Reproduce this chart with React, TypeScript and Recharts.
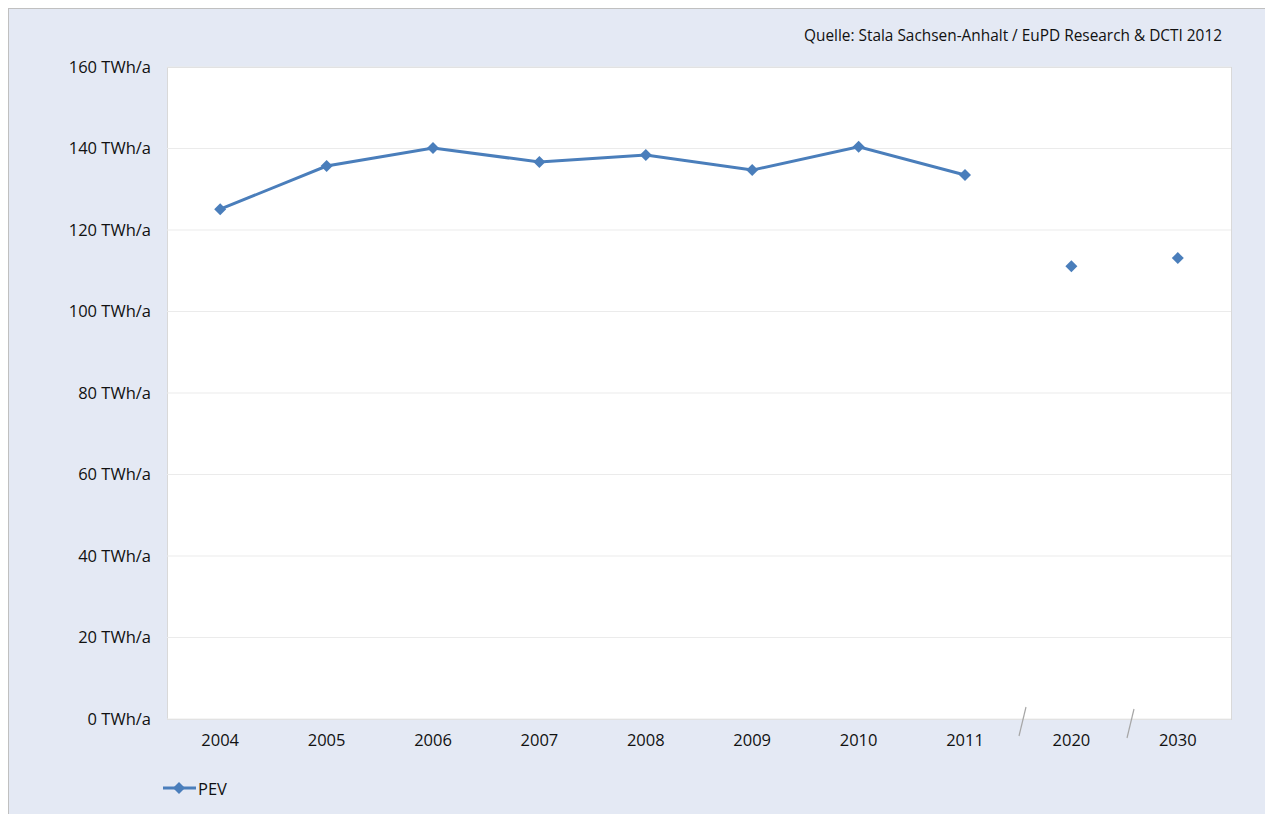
import React from 'react';
import { LineChart, Line, XAxis, YAxis, CartesianGrid } from 'recharts';

const years = ['2004', '2005', '2006', '2007', '2008', '2009', '2010', '2011', '2020', '2030'];
const pevMeasured = [125.1, 135.7, 140.1, 136.7, 138.4, 134.7, 140.4, 133.5, null, null];
const pevForecast = [null, null, null, null, null, null, null, null, 111.1, 113.1];
const yTicks = [0, 20, 40, 60, 80, 100, 120, 140, 160];

const data = years.map((year, i) => ({
  year,
  measured: pevMeasured[i],
  forecast: pevForecast[i],
}));

const BLUE = '#4a7ebb';
const TEXT = '#111';
const FONT = '"Open Sans", "Noto Sans", sans-serif';

const Diamond = (props: any) => {
  const { cx, cy, key } = props;
  if (cx == null || cy == null) return <g key={key} />;
  const r = 6;
  return (
    <polygon
      key={key}
      points={`${cx},${cy - r} ${cx + r},${cy} ${cx},${cy + r} ${cx - r},${cy}`}
      fill={BLUE}
    />
  );
};

export default function App() {
  return (
    <div
      style={{
        position: 'absolute',
        left: 8,
        top: 8,
        width: 1257,
        height: 806,
        overflow: 'hidden',
        background: '#e4e9f4',
        borderTop: '1px solid #c0c0c0',
        borderLeft: '1px solid #c0c0c0',
        boxSizing: 'border-box',
        fontFamily: FONT,
      }}
    >
      <div
        style={{
          position: 'absolute',
          right: 43,
          top: 16,
          fontSize: 15.4,
          fontWeight: 500,
          color: TEXT,
        }}
      >
        Quelle: Stala Sachsen-Anhalt / EuPD Research &amp; DCTI 2012
      </div>

      {/* plot area background */}
      <div
        style={{
          position: 'absolute',
          left: 158,
          top: 58,
          width: 1063,
          height: 651,
          background: '#fff',
          border: '1px solid #d9d9d9',
        }}
      />

      <div style={{ position: 'absolute', left: 0, top: 0 }}>
        <LineChart
          width={1256}
          height={805}
          data={data}
          margin={{ top: 58, right: 34, bottom: 65, left: 0 }}
        >
          <CartesianGrid vertical={false} stroke="#ebebeb" />
          <XAxis
            dataKey="year"
            scale="band"
            height={30}
            axisLine={false}
            tickLine={false}
            tickMargin={9}
            tick={{ fill: TEXT, fontSize: 16.5, fontWeight: 500, fontFamily: FONT }}
            interval={0}
          />
          <YAxis
            width={158}
            domain={[0, 160]}
            ticks={yTicks}
            axisLine={false}
            tickLine={false}
            tickMargin={10}
            tickFormatter={(v) => `${v} TWh/a`}
            tick={{ fill: TEXT, fontSize: 16.5, fontWeight: 500, fontFamily: FONT }}
          />
          <Line
            dataKey="measured"
            stroke={BLUE}
            strokeWidth={3}
            dot={Diamond}
            activeDot={false}
            isAnimationActive={false}
          />
          <Line
            dataKey="forecast"
            stroke="none"
            dot={Diamond}
            activeDot={false}
            isAnimationActive={false}
          />
        </LineChart>
      </div>

      {/* axis break marks */}
      <svg
        style={{ position: 'absolute', left: 0, top: 0 }}
        width={1257}
        height={806}
      >
        <line x1={1017} y1={698} x2={1010} y2={727} stroke="#a6a6a6" strokeWidth={1.2} />
        <line x1={1125} y1={700} x2={1118} y2={729} stroke="#a6a6a6" strokeWidth={1.2} />
      </svg>

      {/* legend */}
      <div
        style={{
          position: 'absolute',
          left: 153,
          top: 767,
          display: 'flex',
          alignItems: 'center',
          fontSize: 16.5,
          fontWeight: 500,
          color: TEXT,
        }}
      >
        <svg width={36} height={24}>
          <line x1={1} y1={12} x2={34} y2={12} stroke={BLUE} strokeWidth={3} />
          <polygon points="17,6 23,12 17,18 11,12" fill={BLUE} />
        </svg>
        <span>PEV</span>
      </div>
    </div>
  );
}
